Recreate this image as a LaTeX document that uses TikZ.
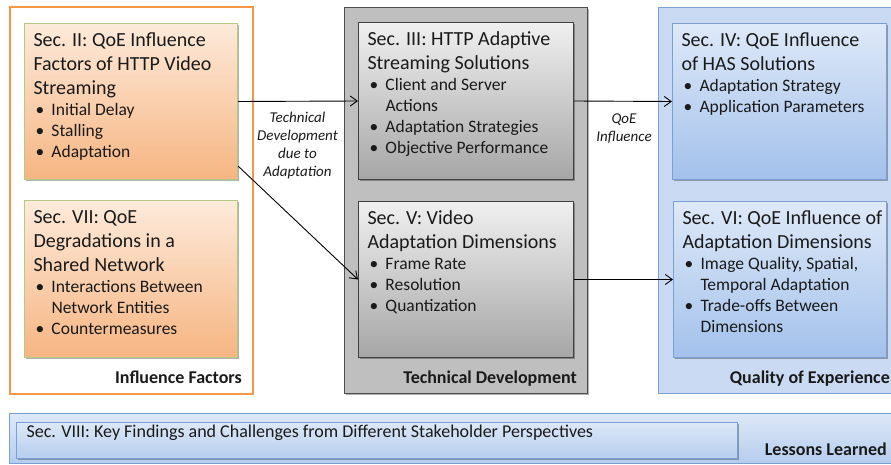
\documentclass[tikz,border=0pt]{standalone}
\usepackage{fontspec}
\setmainfont{Carlito}
\usetikzlibrary{arrows.meta,shadows}
\definecolor{orangeB}{HTML}{F79646}
\definecolor{greenB}{HTML}{B3CA83}
\definecolor{orTop}{HTML}{FDEADA}
\definecolor{orBot}{HTML}{F6B582}
\definecolor{grOutF}{HTML}{BFBFBF}
\definecolor{grOutB}{HTML}{4D4D4D}
\definecolor{grTop}{HTML}{F0F0F0}
\definecolor{grBot}{HTML}{A6A6A6}
\definecolor{grB}{HTML}{404040}
\definecolor{blOutF}{HTML}{C9DAF2}
\definecolor{blOutB}{HTML}{7EA1D3}
\definecolor{blTop}{HTML}{DEE9F8}
\definecolor{blBot}{HTML}{A3C1EB}
\definecolor{blB}{HTML}{7B9FD2}
\definecolor{llTop}{HTML}{DDE8F7}
\definecolor{llBot}{HTML}{B5CDEE}
\definecolor{txt}{HTML}{1A1A1A}
\newcommand\bxtitle[1]{{\fontsize{20}{24}\selectfont\rule{0pt}{23pt}#1\par}}
\newcommand\bul[1]{{\fontsize{17.5}{21}\selectfont\hangindent=18pt\hangafter=1\noindent\makebox[18pt][l]{\hspace{2pt}•}#1\par}}
\newcommand\bxcontent[3]{\parbox[c][#2][t]{#1}{\raggedright\leftskip=9pt\parindent=0pt #3}}
\tikzset{
  shd/.style={drop shadow={shadow xshift=1.5pt,shadow yshift=-1.5pt,opacity=0.3,fill=black}},
  outerO/.style={draw=orangeB, line width=1.6pt, fill=white, inner sep=0pt, anchor=north west},
  outerG/.style={draw=grOutB, line width=1.2pt, fill=grOutF, inner sep=0pt, anchor=north west, shd},
  outerB/.style={draw=blOutB, line width=1.2pt, fill=blOutF, inner sep=0pt, anchor=north west},
  obox/.style={draw=greenB, line width=1pt, top color=orTop, bottom color=orBot, inner sep=0pt, anchor=north west, shd, text=txt},
  gbox/.style={draw=grB, line width=1pt, top color=grTop, bottom color=grBot, inner sep=0pt, anchor=north west, shd, text=txt},
  bbox/.style={draw=blB, line width=1pt, top color=blTop, bottom color=blBot, inner sep=0pt, anchor=north west, shd, text=txt},
  llbox/.style={draw=blB, line width=1.2pt, top color=llTop, bottom color=llBot, inner sep=0pt, anchor=north west},
  grplbl/.style={font=\fontsize{18}{22}\selectfont\bfseries, text=txt, inner sep=0pt, anchor=base east},
  arrlbl/.style={font=\fontsize{15}{18}\selectfont\itshape, text=txt, align=center, inner sep=0pt, anchor=north},
  conn/.style={draw=black, line width=0.9pt, -{Straight Barb[length=7pt,width=10pt]}}
}
\begin{document}
\begin{tikzpicture}[x=1pt,y=-1pt]
\useasboundingbox (0,0) rectangle (891,465);
\clip (0,0) rectangle (891,465);
% group frames
\node[outerO, minimum width=243pt, minimum height=387pt] (gIF) at (9,6) {};
\node[outerG, minimum width=243pt, minimum height=386pt] (gTD) at (344,7) {};
\node[outerB, minimum width=245pt, minimum height=386pt] (gQE) at (658,7) {};
\node[llbox, minimum width=890pt, minimum height=50pt] (gLL) at (9,413) {};
% group labels
\node[grplbl] (lIF) at (242,383) {Influence Factors};
\node[grplbl] (lTD) at (577,383) {Technical Development};
\node[grplbl] (lQE) at (890,383) {Quality of Experience};
\node[grplbl] (lLL) at (887,455) {Lessons Learned};
% inner boxes
\node[obox] (b2) at (24,23) {\bxcontent{213pt}{156pt}{%
  \bxtitle{Sec. II: QoE Influence\\Factors of HTTP Video\\Streaming}%
  \bul{Initial Delay}\bul{Stalling}\bul{Adaptation}}};
\node[obox] (b7) at (24,200) {\bxcontent{213pt}{157pt}{%
  \bxtitle{Sec. VII: QoE\\Degradations in a\\Shared Network}%
  \bul{Interactions Between\newline Network Entities}\bul{Countermeasures}}};
\node[gbox] (b3) at (358,22) {\bxcontent{215pt}{157pt}{%
  \bxtitle{Sec. III: HTTP Adaptive\\Streaming Solutions}%
  \bul{Client and Server\newline Actions}\bul{Adaptation Strategies}\bul{Objective Performance}}};
\node[gbox] (b5) at (358,201) {\bxcontent{215pt}{156pt}{%
  \bxtitle{Sec. V: Video\\Adaptation Dimensions}%
  \bul{Frame Rate}\bul{Resolution}\bul{Quantization}}};
\node[bbox] (b4) at (672,23) {\bxcontent{214pt}{156pt}{%
  \bxtitle{Sec. IV: QoE Influence\\of HAS Solutions}%
  \bul{Adaptation Strategy}\bul{Application Parameters}}};
\node[bbox] (b6) at (673,201) {\bxcontent{213pt}{156pt}{%
  \bxtitle{Sec. VI: QoE Influence of\\Adaptation Dimensions}%
  \bul{Image Quality, Spatial,\newline Temporal Adaptation}\bul{Trade-offs Between\newline Dimensions}}};
\node[llbox, shd, text=txt, minimum width=721pt, minimum height=36pt] (b8) at (16,422) {\parbox[c][36pt][t]{721pt}{\leftskip=10pt\fontsize{18}{22}\selectfont\rule{0pt}{15pt}Sec. VIII: Key Findings and Challenges from Different Stakeholder Perspectives}};
% connectors
\draw[conn] (b2.east) -- (b3.west);
\draw[conn] ([yshift=14pt]b2.south east) -- (b5.west);
\draw[conn] (b3.east) -- (b4.west);
\draw[conn] (b5.east) -- (b6.west);
% connector labels
\node[arrlbl] (tdlbl) at (297.5,112) {Technical\\Development\\due to\\Adaptation};
\node[arrlbl] (qelbl) at (624,114) {QoE\\Influence};
\end{tikzpicture}
\end{document}
